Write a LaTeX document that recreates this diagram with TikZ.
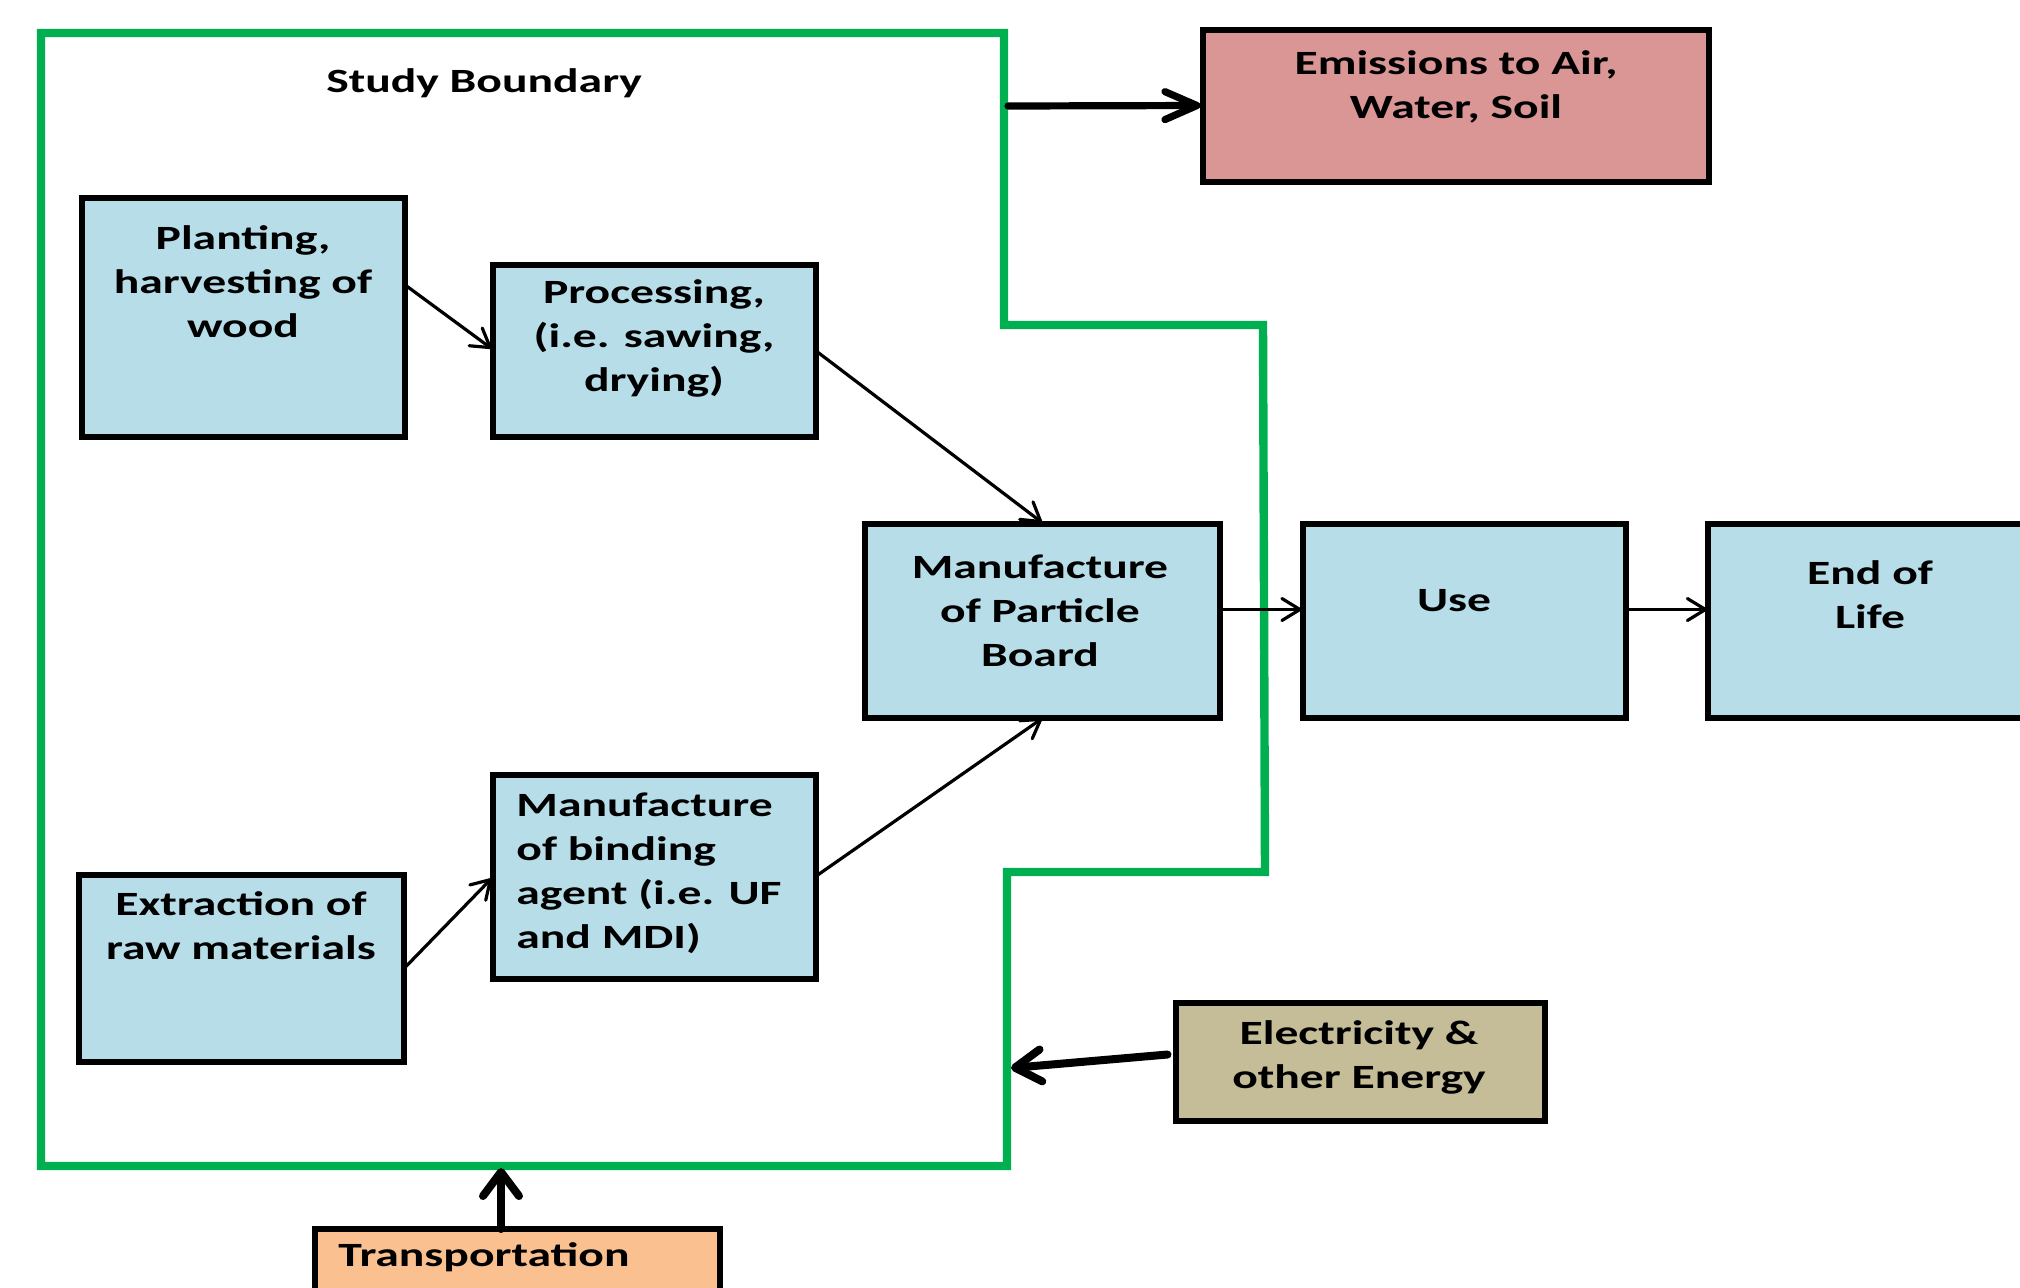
\documentclass[tikz,border=0pt]{standalone}
\usepackage{fontspec}
\setmainfont{Carlito}[FakeStretch=1.40]
\usetikzlibrary{arrows.meta,calc}
\definecolor{boxblue}{HTML}{B7DDE8}
\definecolor{boxpink}{HTML}{D99694}
\definecolor{boxkhaki}{HTML}{C4BD97}
\definecolor{boxpeach}{HTML}{FAC090}
\definecolor{bndgreen}{HTML}{00B050}
\tikzset{
  procbox/.style={draw=black, line width=3pt, inner sep=0pt, outer sep=0pt, rectangle},
  lbl/.style={align=center, font=\bfseries\fontsize{17}{22}\selectfont, inner sep=0pt},
  thinarrow/.style={draw=black, line width=1.6pt, line cap=round,
    -{Straight Barb[length=9pt,width=11pt,line width=1.6pt,round]}},
  thickarrow/.style={draw=black, line width=3.6pt, line cap=round},
  boundary/.style={draw=bndgreen, line width=4.2pt}
}
\begin{document}
\begin{tikzpicture}[x=0.5pt,y=-0.5pt]
\useasboundingbox (0,0) rectangle (2020,1287);
\clip (0,0) rectangle (2020,1287);
% study boundary
\draw[boundary] (41,33) -- (1004,33) -- (1004,325) -- (1263,325) -- (1265,872) -- (1007,872) -- (1007,1166) -- (41,1166) -- cycle;
\node[lbl] (sb) at (484,83) {Study Boundary};
\coordinate (bndE) at (1008,106);
\coordinate (bndR) at (1011,1068);
\coordinate (bndB) at (501,1168);
% boxes
\node[procbox, fill=boxpink, minimum width=253pt, minimum height=76pt] (emis) at (1455.5,105.5) {};
\node[procbox, fill=boxblue, minimum width=161.5pt, minimum height=119.5pt] (plant) at (243,317) {};
\node[procbox, fill=boxblue, minimum width=161.5pt, minimum height=86pt] (proc) at (654,350.5) {};
\node[procbox, fill=boxblue, minimum width=177.5pt, minimum height=97pt] (mpb) at (1042,620.5) {};
\node[procbox, fill=boxblue, minimum width=161.5pt, minimum height=97pt] (use) at (1464,620.5) {};
\node[procbox, fill=boxblue, minimum width=176pt, minimum height=97pt] (eol) at (1884,620.5) {};
\node[procbox, fill=boxblue, minimum width=162.5pt, minimum height=93.5pt] (extr) at (241,968) {};
\node[procbox, fill=boxblue, minimum width=161.5pt, minimum height=102pt] (bind) at (654,876.5) {};
\node[procbox, fill=boxkhaki, minimum width=184.5pt, minimum height=59pt] (elec) at (1360,1061.5) {};
\node[procbox, fill=boxpeach, minimum width=202.5pt, minimum height=41pt] (trans) at (517,1270) {};
% texts
\node[lbl] (emisT) at (1456,87) {Emissions to Air,\\Water, Soil};
\node[lbl] (plantT) at (243,282) {Planting,\\harvesting of\\wood};
\node[lbl] (procT) at (654,338) {Processing,\\(i.e. sawing,\\drying)};
\node[lbl] (mpbT) at (1040,611) {Manufacture\\of Particle\\Board};
\node[lbl] (useT) at (1454,601) {Use};
\node[lbl] (eolT) at (1870,595) {End of\\Life};
\node[lbl] (extrT) at (241,926) {Extraction of\\raw materials};
\node[lbl, align=left, anchor=west] (bindT) at (516,873) {Manufacture\\of binding\\agent (i.e. UF\\and MDI)};
\node[lbl] (elecT) at (1359,1057) {Electricity \&\\other Energy};
\node[lbl, anchor=west] (transT) at (338,1257) {Transportation};
% connectors
\draw[thinarrow] ($(plant.north east)+(0,87)$) -- ($(proc.west)+(-1,-2)$);
\draw[thinarrow] (proc.east) -- ($(mpb.north)+(0,-1)$);
\draw[thinarrow] (bind.east) -- ($(mpb.south)+(0,1)$);
\draw[thinarrow] ($(extr.east)+(0,1)$) -- ($(bind.west)+(-1,2)$);
\draw[thinarrow] ($(mpb.east)+(0,-11)$) -- ($(use.west)+(-1,-11)$);
\draw[thinarrow] ($(use.east)+(0,-11)$) -- ($(eol.west)+(-1,-11)$);
\draw[thickarrow, -{Straight Barb[length=16pt,width=14pt,line width=3.6pt,round]}] (bndE) -- ($(emis.west)+(-2,0)$);
\draw[thickarrow, line width=4pt, -{Straight Barb[length=13pt,width=16pt,line width=4pt,round]}] ($(elec.west)+(-8,-7)$) -- (bndR);
\draw[thickarrow, line width=4pt, -{Straight Barb[length=12pt,width=18pt,line width=4pt,round]}] ($(trans.north)+(-16,0)$) -- (bndB);
\end{tikzpicture}
\end{document}
